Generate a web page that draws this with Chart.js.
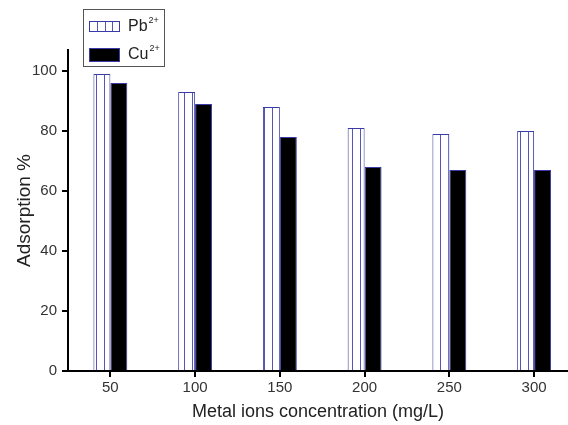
<!DOCTYPE html>
<html>
<head>
<meta charset="utf-8">
<script src="https://cdn.jsdelivr.net/npm/chart.js@4.4.1/dist/chart.umd.min.js"></script>
<style>
  html, body { margin: 0; padding: 0; background: #fff; }
  #wrap { width: 568px; height: 425px; position: relative; }
</style>
</head>
<body>
<div id="wrap"><canvas id="c" width="568" height="425"></canvas></div>
<script>
// Metal ion concentrations (mg/L) and adsorption percentages
const concentrations = [50, 100, 150, 200, 250, 300];
const pbAdsorption = [99, 93, 88, 81, 79, 80];
const cuAdsorption = [96, 89, 78, 68, 67, 67];
const yTicks = [0, 20, 40, 60, 80, 100];
const ionNames = ['Pb', 'Cu'];
const ionCharge = '2+';

const FONT = '"Liberation Sans", Arial, sans-serif';
const EDGE = '#3a3aa8';
const STRIPE = '#5555b8';

// vertical stripe fill for the Pb bars
function stripePattern() {
  const pc = document.createElement('canvas');
  pc.width = 8; pc.height = 4;
  const p = pc.getContext('2d');
  p.fillStyle = '#ffffff';
  p.fillRect(0, 0, 8, 4);
  p.fillStyle = STRIPE;
  p.fillRect(0, 0, 1, 4);
  return p.createPattern(pc, 'repeat');
}

// boxed legend in the upper-left corner with superscript charges
const ionLegend = {
  id: 'ionLegend',
  afterDraw(chart) {
    const ctx = chart.ctx;
    const box = { x: 83.5, y: 9.5, w: 81, h: 57 };
    ctx.save();
    ctx.fillStyle = '#fff';
    ctx.fillRect(box.x, box.y, box.w, box.h);
    ctx.strokeStyle = '#555';
    ctx.lineWidth = 1;
    ctx.strokeRect(box.x, box.y, box.w, box.h);

    const rows = [26, 54];
    chart.data.datasets.forEach((ds, i) => {
      const cy = rows[i];
      const sx = 89.5, sw = 30, sh = i === 0 ? 10 : 13;
      const sy = Math.round(cy - sh / 2) + 0.5;
      if (i === 0) {
        ctx.fillStyle = '#fff';
        ctx.fillRect(sx, sy, sw, sh);
        ctx.strokeStyle = STRIPE;
        ctx.lineWidth = 1;
        for (let k = 1; k < 4; k++) {
          const lx = Math.round(sx + k * sw / 4) + 0.5;
          ctx.beginPath();
          ctx.moveTo(lx, sy);
          ctx.lineTo(lx, sy + sh);
          ctx.stroke();
        }
        ctx.strokeStyle = EDGE;
        ctx.strokeRect(sx, sy, sw, sh);
      } else {
        ctx.fillStyle = '#000';
        ctx.fillRect(sx, sy, sw, sh);
        ctx.strokeStyle = EDGE;
        ctx.strokeRect(sx, sy, sw, sh);
      }
      ctx.fillStyle = '#222';
      ctx.textBaseline = 'middle';
      ctx.textAlign = 'left';
      ctx.font = '16px ' + FONT;
      const name = ionNames[i];
      ctx.fillText(name, 128, cy + 1);
      const nw = ctx.measureText(name).width;
      ctx.font = '9px ' + FONT;
      ctx.fillText(ionCharge, 128 + nw + 1, cy - 5);
    });
    ctx.restore();
  }
};

const ctx = document.getElementById('c').getContext('2d');
new Chart(ctx, {
  type: 'bar',
  data: {
    datasets: [
      {
        label: ionNames[0] + '²⁺',
        data: concentrations.map((c, i) => ({ x: c, y: pbAdsorption[i] })),
        backgroundColor: stripePattern(),
        borderColor: EDGE,
        borderWidth: 1
      },
      {
        label: ionNames[1] + '²⁺',
        data: concentrations.map((c, i) => ({ x: c, y: cuAdsorption[i] })),
        backgroundColor: '#000000',
        borderColor: EDGE,
        borderWidth: 1
      }
    ]
  },
  options: {
    responsive: false,
    animation: false,
    layout: { padding: { top: 50, right: 0, left: 0, bottom: 0 } },
    categoryPercentage: 0.4,
    barPercentage: 1.0,
    plugins: {
      legend: { display: false },
      tooltip: { enabled: false }
    },
    scales: {
      x: {
        type: 'linear',
        offset: false,
        min: 25,
        max: 320,
        afterBuildTicks(scale) {
          scale.ticks = concentrations.map(v => ({ value: v }));
        },
        afterFit(scale) { scale.height = 54; },
        grid: {
          offset: false,
          drawOnChartArea: false,
          drawTicks: true,
          tickLength: 6,
          color: '#000',
          lineWidth: 2
        },
        border: { color: '#000', width: 2 },
        ticks: {
          color: '#333',
          font: { family: FONT, size: 15 },
          padding: 2,
          maxRotation: 0
        },
        title: {
          display: true,
          text: 'Metal ions concentration (mg/L)',
          color: '#222',
          font: { family: FONT, size: 18 },
          padding: { top: 0, bottom: 2 }
        }
      },
      y: {
        min: 0,
        max: 107,
        afterBuildTicks(scale) {
          scale.ticks = yTicks.map(v => ({ value: v }));
        },
        afterFit(scale) { scale.width = 68; },
        grid: {
          drawOnChartArea: false,
          drawTicks: true,
          tickLength: 6,
          color: '#000',
          lineWidth: 2
        },
        border: { color: '#000', width: 2 },
        ticks: {
          color: '#333',
          font: { family: FONT, size: 15 },
          padding: 5
        },
        title: {
          display: true,
          text: 'Adsorption %',
          color: '#222',
          font: { family: FONT, size: 19 },
          padding: { top: 13, bottom: 0 }
        }
      }
    }
  },
  plugins: [ionLegend]
});
</script>
</body>
</html>
